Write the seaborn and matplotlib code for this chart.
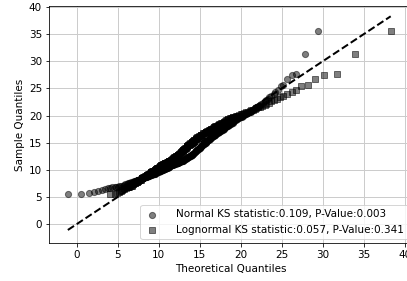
import matplotlib
matplotlib.use("Agg")
import matplotlib.pyplot as plt
import seaborn as sns
import pandas as pd

# Sorted sample values (y axis)
sample_quantiles = [
    5.5, 5.6, 5.8, 5.9, 6.1, 6.3, 6.4, 6.6, 6.7, 6.8, 6.8, 6.9, 6.9, 7.0, 7.0, 7.1, 7.2, 7.3, 7.4, 7.5,
    7.5, 7.6, 7.7, 7.8, 7.8, 7.9, 7.9, 8.0, 8.1, 8.1, 8.2, 8.2, 8.3, 8.4, 8.4, 8.5, 8.5, 8.6, 8.6, 8.7,
    8.7, 8.8, 8.8, 8.9, 8.9, 9.0, 9.0, 9.1, 9.1, 9.2, 9.2, 9.3, 9.3, 9.3, 9.4, 9.4, 9.5, 9.5, 9.6, 9.6,
    9.7, 9.7, 9.8, 9.8, 9.8, 9.9, 9.9, 10.0, 10.0, 10.1, 10.1, 10.2, 10.2, 10.3, 10.3, 10.4, 10.4, 10.4,
    10.5, 10.5, 10.6, 10.6, 10.7, 10.7, 10.8, 10.8, 10.8, 10.9, 10.9, 11.0, 11.0, 11.0, 11.1, 11.1, 11.1,
    11.2, 11.2, 11.2, 11.3, 11.3, 11.3, 11.4, 11.4, 11.5, 11.5, 11.5, 11.6, 11.6, 11.6, 11.7, 11.7, 11.7,
    11.8, 11.8, 11.8, 11.9, 12.0, 12.0, 12.1, 12.1, 12.2, 12.2, 12.3, 12.3, 12.4, 12.4, 12.5, 12.5, 12.6,
    12.6, 12.7, 12.7, 12.8, 12.8, 12.9, 12.9, 13.0, 13.1, 13.1, 13.2, 13.3, 13.4, 13.4, 13.5, 13.6, 13.6,
    13.7, 13.8, 13.9, 13.9, 14.0, 14.1, 14.1, 14.2, 14.3, 14.4, 14.4, 14.5, 14.6, 14.6, 14.7, 14.8, 14.9,
    14.9, 15.0, 15.1, 15.1, 15.2, 15.3, 15.3, 15.4, 15.5, 15.5, 15.6, 15.7, 15.7, 15.8, 15.9, 16.0, 16.0,
    16.1, 16.2, 16.2, 16.3, 16.4, 16.4, 16.5, 16.5, 16.6, 16.7, 16.7, 16.8, 16.8, 16.9, 17.0, 17.0, 17.1,
    17.2, 17.2, 17.3, 17.4, 17.4, 17.5, 17.6, 17.6, 17.7, 17.8, 17.8, 17.9, 18.0, 18.0, 18.1, 18.2, 18.3,
    18.3, 18.4, 18.5, 18.6, 18.7, 18.7, 18.8, 18.9, 19.0, 19.1, 19.2, 19.3, 19.4, 19.5, 19.6, 19.6, 19.7,
    19.8, 19.8, 19.9, 20.0, 20.0, 20.1, 20.2, 20.3, 20.3, 20.4, 20.5, 20.6, 20.7, 20.8, 21.0, 21.1, 21.2,
    21.4, 21.5, 21.6, 21.8, 22.0, 22.2, 22.4, 22.6, 22.8, 23.1, 23.4, 23.6, 24.0, 24.4, 24.8, 25.4, 25.6,
    26.8, 27.4, 27.7, 31.4, 35.6,
]

# Theoretical quantiles of the fitted normal distribution (x axis, circles)
normal_quantiles = [
    -1.1, 0.5, 1.5, 2.1, 2.6, 3.1, 3.4, 3.8, 4.1, 4.3, 4.6, 4.8, 5.0, 5.2, 5.4, 5.6, 5.8, 5.9, 6.1, 6.2,
    6.4, 6.5, 6.6, 6.8, 6.9, 7.0, 7.1, 7.2, 7.4, 7.5, 7.6, 7.7, 7.8, 7.9, 8.0, 8.1, 8.2, 8.2, 8.3, 8.4,
    8.5, 8.6, 8.7, 8.8, 8.8, 8.9, 9.0, 9.1, 9.2, 9.2, 9.3, 9.4, 9.5, 9.5, 9.6, 9.7, 9.7, 9.8, 9.9, 10.0,
    10.0, 10.1, 10.2, 10.2, 10.3, 10.4, 10.4, 10.5, 10.5, 10.6, 10.7, 10.7, 10.8, 10.9, 10.9, 11.0, 11.0,
    11.1, 11.2, 11.2, 11.3, 11.3, 11.4, 11.4, 11.5, 11.6, 11.6, 11.7, 11.7, 11.8, 11.8, 11.9, 11.9, 12.0,
    12.1, 12.1, 12.2, 12.2, 12.3, 12.3, 12.4, 12.4, 12.5, 12.5, 12.6, 12.6, 12.7, 12.7, 12.8, 12.8, 12.9,
    13.0, 13.0, 13.1, 13.1, 13.2, 13.2, 13.3, 13.3, 13.4, 13.4, 13.5, 13.5, 13.6, 13.6, 13.7, 13.7, 13.8,
    13.8, 13.9, 13.9, 14.0, 14.0, 14.1, 14.1, 14.2, 14.2, 14.3, 14.3, 14.4, 14.4, 14.5, 14.5, 14.6, 14.6,
    14.7, 14.7, 14.8, 14.8, 14.9, 14.9, 15.0, 15.0, 15.1, 15.1, 15.2, 15.2, 15.3, 15.3, 15.4, 15.5, 15.5,
    15.6, 15.6, 15.7, 15.7, 15.8, 15.8, 15.9, 15.9, 16.0, 16.0, 16.1, 16.1, 16.2, 16.2, 16.3, 16.4, 16.4,
    16.5, 16.5, 16.6, 16.6, 16.7, 16.7, 16.8, 16.9, 16.9, 17.0, 17.0, 17.1, 17.1, 17.2, 17.3, 17.3, 17.4,
    17.4, 17.5, 17.6, 17.6, 17.7, 17.8, 17.8, 17.9, 17.9, 18.0, 18.1, 18.1, 18.2, 18.3, 18.3, 18.4, 18.5,
    18.6, 18.6, 18.7, 18.8, 18.8, 18.9, 19.0, 19.1, 19.1, 19.2, 19.3, 19.4, 19.5, 19.5, 19.6, 19.7, 19.8,
    19.9, 20.0, 20.1, 20.1, 20.2, 20.3, 20.4, 20.5, 20.6, 20.7, 20.8, 20.9, 21.1, 21.2, 21.3, 21.4, 21.5,
    21.7, 21.8, 21.9, 22.1, 22.2, 22.4, 22.5, 22.7, 22.9, 23.1, 23.3, 23.5, 23.7, 24.0, 24.2, 24.5, 24.9,
    25.2, 25.7, 26.2, 26.8, 27.8, 29.4,
]

# Theoretical quantiles of the fitted lognormal distribution (x axis, squares)
lognormal_quantiles = [
    4.1, 4.6, 4.9, 5.2, 5.4, 5.5, 5.7, 5.8, 6.0, 6.1, 6.2, 6.3, 6.4, 6.5, 6.6, 6.7, 6.7, 6.8, 6.9, 7.0,
    7.1, 7.1, 7.2, 7.3, 7.3, 7.4, 7.5, 7.5, 7.6, 7.6, 7.7, 7.8, 7.8, 7.9, 7.9, 8.0, 8.0, 8.1, 8.2, 8.2,
    8.3, 8.3, 8.4, 8.4, 8.5, 8.5, 8.6, 8.6, 8.7, 8.7, 8.8, 8.8, 8.9, 8.9, 8.9, 9.0, 9.0, 9.1, 9.1, 9.2,
    9.2, 9.3, 9.3, 9.4, 9.4, 9.5, 9.5, 9.5, 9.6, 9.6, 9.7, 9.7, 9.8, 9.8, 9.8, 9.9, 9.9, 10.0, 10.0,
    10.1, 10.1, 10.2, 10.2, 10.2, 10.3, 10.3, 10.4, 10.4, 10.5, 10.5, 10.5, 10.6, 10.6, 10.7, 10.7, 10.8,
    10.8, 10.8, 10.9, 10.9, 11.0, 11.0, 11.1, 11.1, 11.1, 11.2, 11.2, 11.3, 11.3, 11.4, 11.4, 11.4, 11.5,
    11.5, 11.6, 11.6, 11.7, 11.7, 11.7, 11.8, 11.8, 11.9, 11.9, 12.0, 12.0, 12.1, 12.1, 12.1, 12.2, 12.2,
    12.3, 12.3, 12.4, 12.4, 12.5, 12.5, 12.6, 12.6, 12.7, 12.7, 12.7, 12.8, 12.8, 12.9, 12.9, 13.0, 13.0,
    13.1, 13.1, 13.2, 13.2, 13.3, 13.3, 13.4, 13.4, 13.5, 13.5, 13.6, 13.6, 13.7, 13.7, 13.8, 13.8, 13.9,
    14.0, 14.0, 14.1, 14.1, 14.2, 14.2, 14.3, 14.3, 14.4, 14.5, 14.5, 14.6, 14.6, 14.7, 14.7, 14.8, 14.9,
    14.9, 15.0, 15.1, 15.1, 15.2, 15.2, 15.3, 15.4, 15.4, 15.5, 15.6, 15.6, 15.7, 15.8, 15.8, 15.9, 16.0,
    16.1, 16.1, 16.2, 16.3, 16.4, 16.4, 16.5, 16.6, 16.7, 16.7, 16.8, 16.9, 17.0, 17.1, 17.2, 17.3, 17.3,
    17.4, 17.5, 17.6, 17.7, 17.8, 17.9, 18.0, 18.1, 18.2, 18.3, 18.4, 18.5, 18.7, 18.8, 18.9, 19.0, 19.1,
    19.3, 19.4, 19.5, 19.7, 19.8, 20.0, 20.1, 20.3, 20.4, 20.6, 20.7, 20.9, 21.1, 21.3, 21.5, 21.7, 21.9,
    22.1, 22.4, 22.6, 22.9, 23.1, 23.4, 23.7, 24.1, 24.4, 24.8, 25.2, 25.7, 26.2, 26.8, 27.4, 28.2, 29.1,
    30.2, 31.7, 33.9, 38.3,
]

normal_label = "Normal KS statistic:0.109, P-Value:0.003"
lognormal_label = "Lognormal KS statistic:0.057, P-Value:0.341"

plt.rcParams["font.size"] = 10.4

fig = plt.figure(figsize=(407 / 72, 281 / 72), dpi=72)
ax = fig.add_axes([49 / 407, 38 / 281, 363 / 407, 237 / 281])

df_n = pd.DataFrame({"theoretical": normal_quantiles, "sample": sample_quantiles})
df_l = pd.DataFrame({"theoretical": lognormal_quantiles, "sample": sample_quantiles})

sns.scatterplot(data=df_n, x="theoretical", y="sample", ax=ax, color="k", alpha=0.5,
                marker="o", s=38, edgecolor="k", linewidth=1.0, label=normal_label, zorder=2)
sns.scatterplot(data=df_l, x="theoretical", y="sample", ax=ax, color="k", alpha=0.5,
                marker="s", s=38, edgecolor="k", linewidth=1.0, label=lognormal_label, zorder=2)

lo = min(min(normal_quantiles), min(lognormal_quantiles))
hi = max(max(normal_quantiles), max(lognormal_quantiles))
ax.plot([lo, hi], [lo, hi], "k--", lw=2, zorder=3)

ax.set_xlim(-3.4, 40.9)
ax.set_ylim(-3.5, 40.2)
ax.set_xticks(range(0, 41, 5))
ax.set_yticks(range(0, 41, 5))
ax.grid(True, color="#cccccc", linewidth=1)
ax.set_axisbelow(True)
ax.set_xlabel("Theoretical Quantiles")
ax.set_ylabel("Sample Quantiles")
ax.legend(loc="lower right", handlelength=1.5, handletextpad=1.5, borderaxespad=0.4)

fig.savefig("out.png", dpi=72)
